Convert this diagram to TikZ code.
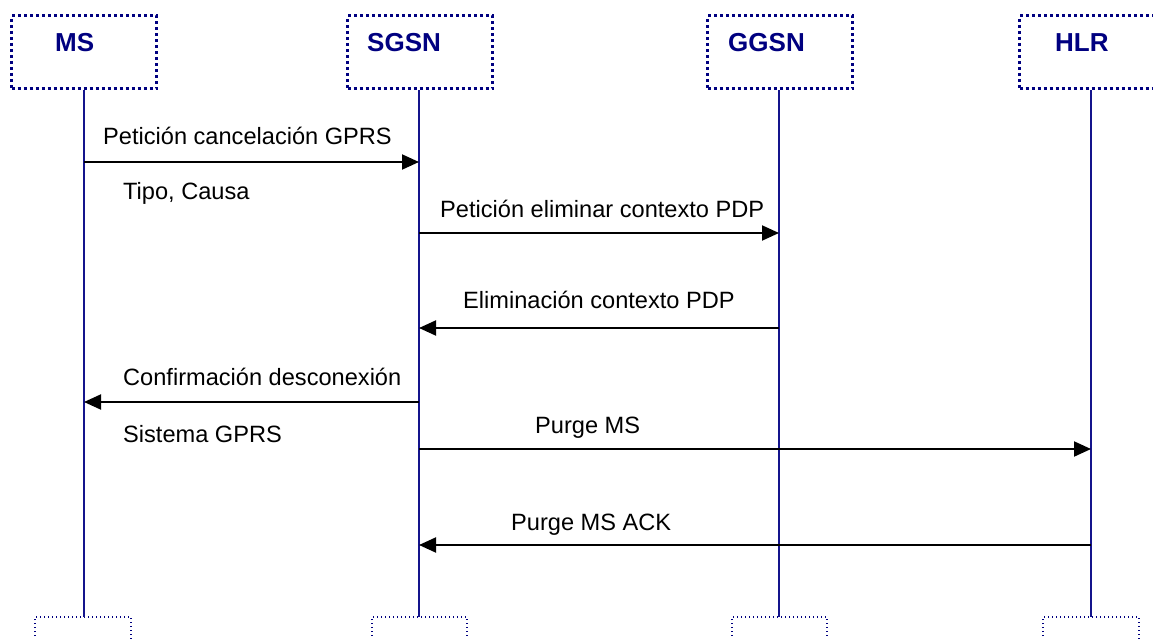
\documentclass[tikz,border=0pt]{standalone}
\usepackage{fontspec}
\setmainfont{Liberation Sans}
\usetikzlibrary{arrows.meta}
\definecolor{navyink}{RGB}{0,0,128}
\definecolor{lifeblue}{RGB}{20,20,140}
\tikzset{
  headbox/.style={draw=navyink, line width=3pt, dash pattern=on 3pt off 3pt,
    minimum width=145pt, minimum height=73pt, inner sep=0pt},
  footbox/.style={draw=navyink, line width=1.4pt, dash pattern=on 1.4pt off 2.6pt},
  headtext/.style={anchor=base west, inner sep=0pt, text=navyink,
    font=\fontsize{26}{30}\selectfont\bfseries},
  msgtext/.style={anchor=base west, inner sep=0pt,
    font=\fontsize{23.6}{28}\selectfont},
  lifeline/.style={draw=lifeblue, line width=2pt},
  msg/.style={draw=black, line width=2pt, -{Triangle[length=17pt,width=15pt]}}
}
\begin{document}
\begin{tikzpicture}[x=1pt,y=-1pt]
\useasboundingbox (0,0) rectangle (1153,639);
\clip (0,0) rectangle (1153,639);

% header boxes
\node[headbox] (ms)   at (84,52.5)   {};
\node[headbox] (sgsn) at (420,52.5)  {};
\node[headbox] (ggsn) at (780,52.5)  {};
\node[headbox] (hlr)  at (1092,52.5) {};
\node[headtext] (msT)   at (55,52)   {MS};
\node[headtext] (sgsnT) at (367,52)  {SGSN};
\node[headtext] (ggsnT) at (728,52)  {GGSN};
\node[headtext] (hlrT)  at (1055,52) {HLR};

% footer boxes
\draw[footbox] (35,660) -- (35,617) -- (131,617) -- (131,660);
\draw[footbox] (372,660) -- (372,617) -- (467,617) -- (467,660);
\draw[footbox] (732,660) -- (732,617) -- (827,617) -- (827,660);
\draw[footbox] (1043,660) -- (1043,617) -- (1139,617) -- (1139,660);
\coordinate (msF)   at (84,617);
\coordinate (sgsnF) at (419,617);
\coordinate (ggsnF) at (779,617);
\coordinate (hlrF)  at (1091,617);

% lifelines
\draw[lifeline] (ms.south -| msF) -- (msF);
\draw[lifeline] (sgsn.south -| sgsnF) -- (sgsnF);
\draw[lifeline] (ggsn.south -| ggsnF) -- (ggsnF);
\draw[lifeline] (hlr.south -| hlrF) -- (hlrF);

% message anchor points on the lifelines
\coordinate (m1a) at (84,162);   \coordinate (m1b) at (419,162);
\coordinate (m2a) at (419,233);  \coordinate (m2b) at (779,233);
\coordinate (m3a) at (779,328);  \coordinate (m3b) at (419,328);
\coordinate (m4a) at (419,402);  \coordinate (m4b) at (84,402);
\coordinate (m5a) at (419,449);  \coordinate (m5b) at (1091,449);
\coordinate (m6a) at (1091,545); \coordinate (m6b) at (419,545);

% messages
\draw[msg] (m1a) -- (m1b);
\draw[msg] (m2a) -- (m2b);
\draw[msg] (m3a) -- (m3b);
\draw[msg] (m4a) -- (m4b);
\draw[msg] (m5a) -- (m5b);
\draw[msg] (m6a) -- (m6b);

% message labels
\node[msgtext] (l1)  at (103,145) {Petición cancelación GPRS};
\node[msgtext] (l1b) at (123,200) {Tipo, Causa};
\node[msgtext] (l2)  at (440,217) {Petición eliminar contexto PDP};
\node[msgtext] (l3)  at (463,308) {Eliminación contexto PDP};
\node[msgtext] (l4)  at (123,385) {Confirmación desconexión};
\node[msgtext] (l4b) at (123,442) {Sistema GPRS};
\node[msgtext] (l5)  at (535,433) {Purge MS};
\node[msgtext] (l6)  at (511,530) {Purge MS ACK};
\end{tikzpicture}
\end{document}
